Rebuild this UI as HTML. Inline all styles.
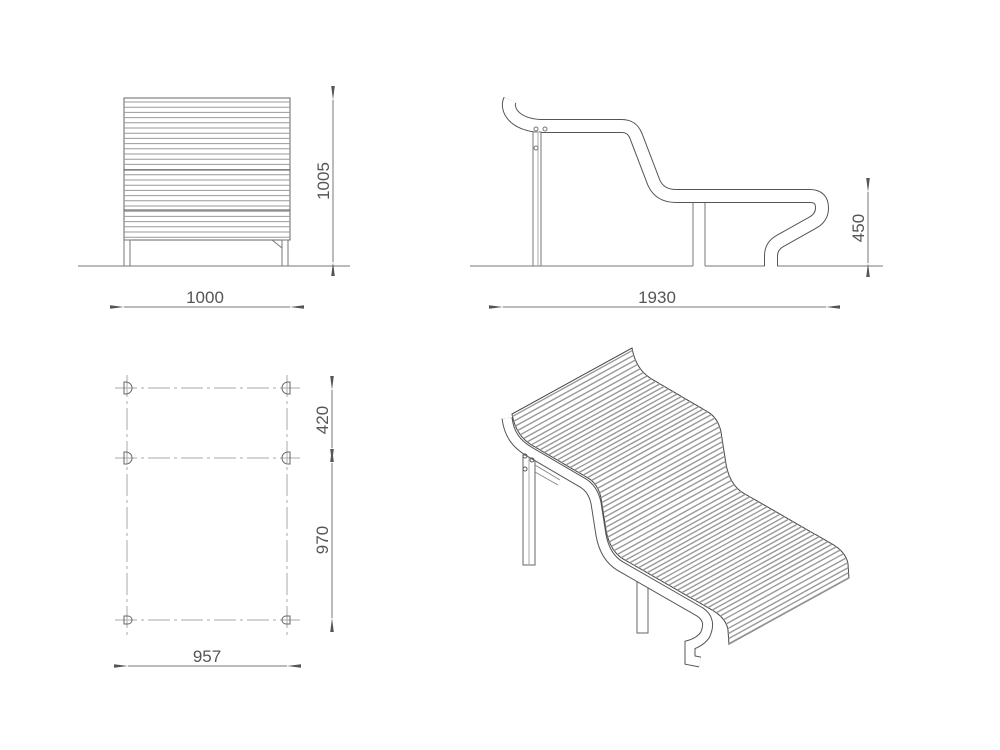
<!DOCTYPE html>
<html><head><meta charset="utf-8"><style>
html,body{margin:0;padding:0;background:#fff}
svg{display:block}
text{font-family:"Liberation Sans",sans-serif;font-size:17px;fill:#555}
</style></head><body>
<svg id="s" width="1000" height="750" viewBox="0 0 1000 750" xmlns="http://www.w3.org/2000/svg">
<defs>
<marker id="a" markerWidth="14" markerHeight="6" refX="0" refY="3" orient="auto-start-reverse" markerUnits="userSpaceOnUse"><path d="M0,3 L14,1.2 L14,4.8Z" fill="#555"/></marker>
</defs>
<g stroke="#777" stroke-width="1" fill="none">
<!-- FRONT VIEW -->
<line x1="78" y1="266" x2="350" y2="266"/>
<rect x="124" y="98" width="166" height="142" fill="#fff" stroke="#666"/>
<g id="fs"></g>
<rect x="124" y="240" width="6" height="26"/>
<rect x="282" y="240" width="6" height="26"/>
<line x1="272" y1="240" x2="282" y2="248"/>
<line x1="333" y1="100" x2="333" y2="262" marker-start="url(#a)" marker-end="url(#a)"/>
<line x1="124" y1="307" x2="290" y2="307" marker-start="url(#a)" marker-end="url(#a)"/>

<!-- SIDE VIEW -->
<line x1="470" y1="266" x2="883" y2="266"/>
<path d="M510,100 C506,108 512,124 540,126 L622,126 Q632,126 636,136 L654,183 Q660,196 676,196 L810,196 Q822,196 822,208 Q822,218 812,223 L780,241 Q771,246 771,256 L771,266" stroke="#555" stroke-width="14" stroke-linecap="butt"/>
<path d="M510,100 C506,108 512,124 540,126 L622,126 Q632,126 636,136 L654,183 Q660,196 676,196 L810,196 Q822,196 822,208 Q822,218 812,223 L780,241 Q771,246 771,256 L771,267" stroke="#fff" stroke-width="12" stroke-linecap="butt"/>
<rect x="533" y="132" width="8" height="134" fill="#fff"/>
<line x1="538" y1="133" x2="538" y2="266" stroke="#aaa"/>
<rect x="693" y="203" width="12" height="64" fill="#fff" stroke="none"/>
<line x1="693" y1="203" x2="693" y2="266"/><line x1="705" y1="203" x2="705" y2="266"/>
<circle cx="536" cy="129" r="2"/><circle cx="545" cy="129" r="2"/><circle cx="536" cy="148" r="2"/>
<line x1="868" y1="192" x2="868" y2="263" marker-start="url(#a)" marker-end="url(#a)"/>
<line x1="503" y1="307" x2="826" y2="307" marker-start="url(#a)" marker-end="url(#a)"/>

<!-- PLAN VIEW -->
<g stroke="#aaa" stroke-dasharray="22,4,3,4">
<line x1="127" y1="375" x2="127" y2="635"/><line x1="287" y1="375" x2="287" y2="635"/>
<line x1="115" y1="388" x2="300" y2="388"/><line x1="115" y1="458" x2="300" y2="458"/><line x1="115" y1="620" x2="300" y2="620"/>
</g>
<path d="M124,382 L126,382 A6,6 0 0 1 126,394 L124,394Z M124,452 L126,452 A6,6 0 0 1 126,464 L124,464Z M290,382 L288,382 A6,6 0 0 0 288,394 L290,394Z M290,452 L288,452 A6,6 0 0 0 288,464 L290,464Z M124,616 L128,616 A4,4 0 0 1 128,624 L124,624Z M290,616 L286,616 A4,4 0 0 0 286,624 L290,624Z" stroke="#666"/>
<line x1="332" y1="390" x2="332" y2="448" marker-start="url(#a)" marker-end="url(#a)"/>
<line x1="332" y1="463" x2="332" y2="618" marker-start="url(#a)" marker-end="url(#a)"/>
<line x1="128" y1="666" x2="287" y2="666" marker-start="url(#a)" marker-end="url(#a)"/>

<!-- ISO VIEW -->
<rect x="523" y="455" width="12" height="110" fill="#fff" stroke="#666"/>
<line x1="529" y1="456" x2="529" y2="565" stroke="#aaa"/>
<rect x="637" y="580" width="11" height="53" fill="#fff" stroke="#666"/>
<path d="M535,465 L560,480 M535,472 L558,485" stroke="#888"/>
<path d="M507,418 C509,434 516,444 530,452 L583,483 Q593,489 596,503 L601,535 Q605,557 620,566 L700,612 Q712,620 705,635 Q700,642 690,645 L690,660 L700,662" stroke="#555" stroke-width="11"/>
<path d="M507,418 C509,434 516,444 530,452 L583,483 Q593,489 596,503 L601,535 Q605,557 620,566 L700,612 Q712,620 705,635 Q700,642 690,645 L690,660 L700,662" stroke="#fff" stroke-width="9"/>
<circle cx="525" cy="456" r="2" stroke="#555"/><circle cx="532" cy="460" r="2" stroke="#555"/><circle cx="525" cy="469" r="2" stroke="#555"/>
<path id="prof" d="M512,414 C515,430 522,440 535,447 L588,478 Q598,484 601,498 L606,530 Q610,552 625,560 L712,610 Q726,618 728,630 L729,645" stroke="none"/>
<g id="iso"></g>
</g>
<text x="205" y="303" text-anchor="middle">1000</text>
<text transform="translate(329,181) rotate(-90)" text-anchor="middle">1005</text>
<text x="657" y="303" text-anchor="middle">1930</text>
<text transform="translate(864,228) rotate(-90)" text-anchor="middle">450</text>
<text transform="translate(328,420) rotate(-90)" text-anchor="middle">420</text>
<text transform="translate(328,540) rotate(-90)" text-anchor="middle">970</text>
<text x="207" y="662" text-anchor="middle">957</text>
</svg>
<script>
var NS="http://www.w3.org/2000/svg";
function L(g,x1,y1,x2,y2,c,w){var l=document.createElementNS(NS,"line");l.setAttribute("x1",x1);l.setAttribute("y1",y1);l.setAttribute("x2",x2);l.setAttribute("y2",y2);l.setAttribute("stroke",c);l.setAttribute("stroke-width",w);g.appendChild(l);}
var fs=document.getElementById("fs");
for(var y=102;y<240;y+=5.2){L(fs,124,y,290,y,"#999",1);}
L(fs,124,170,290,170,"#555",1);L(fs,124,210,290,210,"#555",1);
var p=document.getElementById("prof"),g=document.getElementById("iso");
var len=p.getTotalLength(),vx=120,vy=-66;
var pts=[];for(var d=0;d<=len;d+=1){pts.push(p.getPointAtLength(d));}
var s="";pts.forEach(function(q){s+=q.x+","+q.y+" ";});
for(var i=pts.length-1;i>=0;i--){s+=(pts[i].x+vx)+","+(pts[i].y+vy)+" ";}
var pg=document.createElementNS(NS,"polygon");pg.setAttribute("points",s);pg.setAttribute("fill","#fff");pg.setAttribute("stroke","#444");pg.setAttribute("stroke-width","1");g.appendChild(pg);
for(var d=2.5;d<len;d+=5){var q=p.getPointAtLength(d);
var dark=(Math.abs(d-95)<2.5||Math.abs(d-205)<2.5||Math.abs(d-300)<2.5);
L(g,q.x,q.y,q.x+vx,q.y+vy,dark?"#444":"#999",dark?1.1:1.4);}
</script>
</body></html>
